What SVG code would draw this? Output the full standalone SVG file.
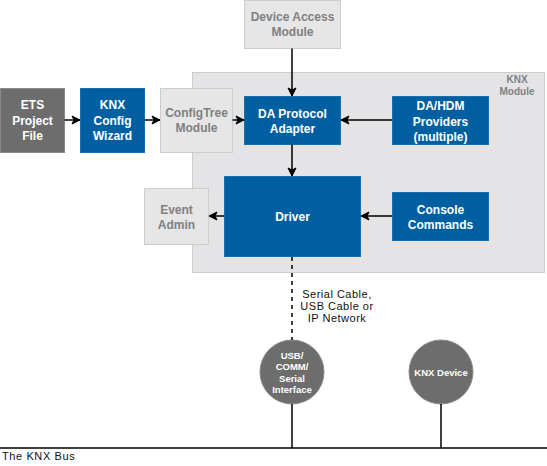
<svg xmlns="http://www.w3.org/2000/svg" width="547" height="466" viewBox="0 0 547 466">
<style>
text{font-family:"Liberation Sans",Arial,sans-serif;text-anchor:middle}
.b{fill:#005FA0;stroke:#1A6EAB;stroke-width:1}
.l{fill:#E6E6E6;stroke:#CCCCCC;stroke-width:1}
.d{fill:#6D6D6D;stroke:#8A8A8A;stroke-width:1}
.tw{fill:#FFFFFF;font-size:12px;font-weight:bold}
.tg{fill:#808080;font-size:12px;font-weight:bold}
.ts{fill:#FFFFFF;font-size:9.5px;font-weight:bold}
.tl{fill:#111;font-size:11px;letter-spacing:0.5px}
.c{stroke:#000;stroke-width:1.5;fill:none}
</style>
<defs>
<marker id="a" viewBox="0 0 10 10" refX="9" refY="5" markerWidth="10" markerHeight="10" markerUnits="userSpaceOnUse" orient="auto">
<path d="M1,1 L9,5 L1,9 L3,5 z" fill="#000" stroke="#000" stroke-width="1"/>
</marker>
</defs>
<g id="knx-module">
<rect x="192.5" y="72.5" width="352" height="200" fill="#E4E4E6" stroke="#CCCCCC"/>
<text x="517" y="83" style="fill:#808080;font-size:10px;font-weight:bold">KNX</text>
<text x="517" y="95" style="fill:#808080;font-size:10px;font-weight:bold">Module</text>
</g>
<g id="device-access">
<rect class="l" x="244.5" y="0.5" width="96" height="48"/>
<text class="tg" x="292.5" y="21">Device Access</text>
<text class="tg" x="292.5" y="36">Module</text>
</g>
<g id="ets">
<rect class="d" x="0.5" y="88.5" width="64" height="64"/>
<text class="tw" x="32.5" y="109">ETS</text>
<text class="tw" x="32.5" y="125">Project</text>
<text class="tw" x="32.5" y="140">File</text>
</g>
<g id="wizard">
<rect class="b" x="80.5" y="88.5" width="64" height="64"/>
<text class="tw" x="112.5" y="109">KNX</text>
<text class="tw" x="112.5" y="125">Config</text>
<text class="tw" x="112.5" y="140">Wizard</text>
</g>
<g id="configtree">
<rect class="l" x="160.5" y="88.5" width="72" height="64"/>
<text class="tg" x="196.5" y="117">ConfigTree</text>
<text class="tg" x="196.5" y="132">Module</text>
</g>
<g id="da-adapter">
<rect class="b" x="244.5" y="96.5" width="96" height="48"/>
<text class="tw" x="292.5" y="117.5">DA Protocol</text>
<text class="tw" x="292.5" y="132.5">Adapter</text>
</g>
<g id="providers">
<rect class="b" x="392.5" y="96.5" width="96" height="48"/>
<text class="tw" x="440.5" y="109.5">DA/HDM</text>
<text class="tw" x="440.5" y="125.5">Providers</text>
<text class="tw" x="440.5" y="141">(multiple)</text>
</g>
<g id="driver">
<rect class="b" x="224.5" y="176.5" width="136" height="80"/>
<text class="tw" x="292.5" y="221">Driver</text>
</g>
<g id="console">
<rect class="b" x="392.5" y="192.5" width="96" height="48"/>
<text class="tw" x="440.5" y="213.5">Console</text>
<text class="tw" x="440.5" y="228.5">Commands</text>
</g>
<g id="event-admin">
<rect class="l" x="144.5" y="188.5" width="64" height="56"/>
<text class="tg" x="176.5" y="213.5">Event</text>
<text class="tg" x="176.5" y="228.5">Admin</text>
</g>
<g id="usb-interface">
<circle cx="292" cy="372" r="32" fill="#6D6D6D" stroke="#8A8A8A"/>
<text class="ts" x="292" y="359">USB/</text>
<text class="ts" x="292" y="370">COMM/</text>
<text class="ts" x="292" y="382">Serial</text>
<text class="ts" x="292" y="393">Interface</text>
</g>
<g id="knx-device">
<circle cx="441" cy="372" r="32" fill="#6D6D6D" stroke="#8A8A8A"/>
<text class="ts" x="441" y="376">KNX Device</text>
</g>
<g id="connectors">
<line class="c" x1="64.5" y1="120" x2="80" y2="120" marker-end="url(#a)"/>
<line class="c" x1="144.5" y1="120" x2="160" y2="120" marker-end="url(#a)"/>
<line class="c" x1="232.5" y1="120" x2="244" y2="120" marker-end="url(#a)"/>
<line class="c" x1="292" y1="48.5" x2="292" y2="96" marker-end="url(#a)"/>
<line class="c" x1="392" y1="120" x2="341" y2="120" marker-end="url(#a)"/>
<line class="c" x1="292" y1="144.5" x2="292" y2="176" marker-end="url(#a)"/>
<line class="c" x1="392" y1="216" x2="361" y2="216" marker-end="url(#a)"/>
<line class="c" x1="224" y1="216" x2="209" y2="216" marker-end="url(#a)"/>
<line x1="292" y1="257" x2="292" y2="340" stroke="#000" stroke-width="1.5" stroke-dasharray="4 4"/>
<text class="tl" x="337" y="298">Serial Cable,</text>
<text class="tl" x="337" y="310">USB Cable or</text>
<text class="tl" x="337" y="322">IP Network</text>
<line x1="292" y1="404" x2="292" y2="448" stroke="#000" stroke-width="1.5"/>
<line x1="441" y1="404" x2="441" y2="448" stroke="#000" stroke-width="1.5"/>
<line x1="0" y1="448" x2="547" y2="448" stroke="#000" stroke-width="1.5"/>
<text x="2" y="460" style="fill:#111;font-size:11px;letter-spacing:0.6px;text-anchor:start">The KNX Bus</text>
</g>
</svg>
